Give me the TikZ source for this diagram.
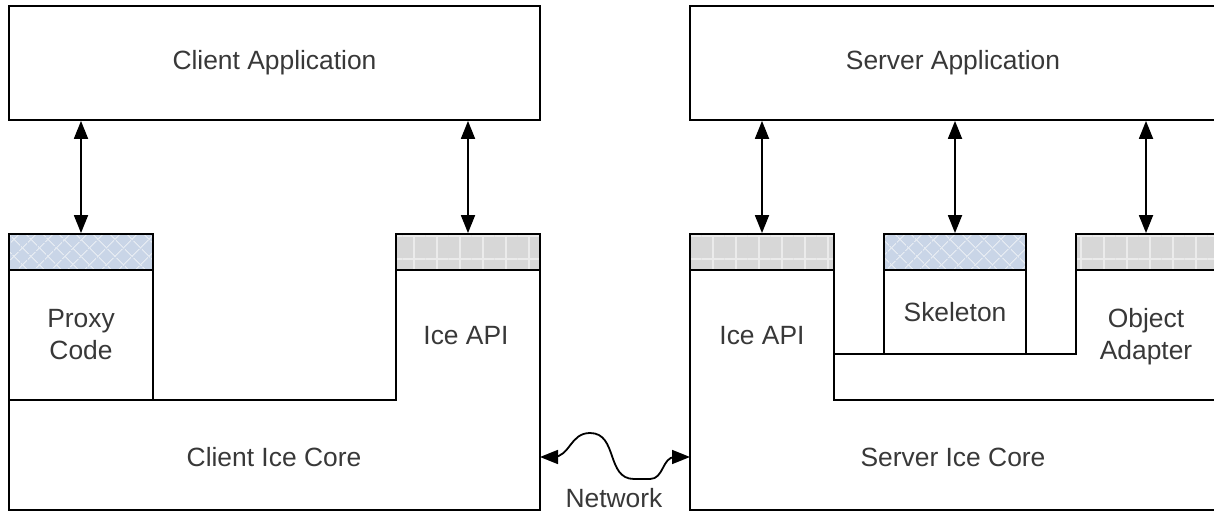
\documentclass[tikz,border=0pt]{standalone}
\usepackage{fontspec}
\setmainfont{Liberation Sans}
\usetikzlibrary{arrows.meta}
\usetikzlibrary{patterns.meta}
\definecolor{hatchblue}{HTML}{C9D5E7}
\definecolor{hatchline}{HTML}{E6EBF2}
\definecolor{gridgrey}{HTML}{D7D7D7}
\definecolor{gridline}{HTML}{EBEBEB}
\definecolor{labelgrey}{HTML}{383838}
\begin{document}
\begin{tikzpicture}[x=0.5pt,y=-0.5pt,
  line width=0.9pt,
  every node/.style={font=\fontsize{13.2}{16}\selectfont},
  box/.style={draw,inner sep=0pt,text=labelgrey,align=center},
  lbl/.style={text=labelgrey,align=center},
  xhatch/.style={box,fill=hatchblue,
    postaction={pattern={Lines[angle=45,distance=6.4pt,line width=0.6pt]},pattern color=hatchline},
    postaction={pattern={Lines[angle=-45,distance=6.4pt,line width=0.6pt]},pattern color=hatchline},
    postaction={draw}},
  apihead/.style={box,fill=gridgrey,
    postaction={pattern={Lines[angle=0,distance=11.5pt,line width=0.8pt]},pattern color=gridline},
    postaction={pattern={Lines[angle=90,distance=11.5pt,line width=0.8pt]},pattern color=gridline},
    postaction={draw}},
  biarrow/.style={>={Triangle[length=9pt,width=7pt]},<->}]
\clip (0,0) rectangle (1214,512);
% applications
\node (clientapp) [box,minimum width=265.5pt,minimum height=57pt] at (274.5,63) {Client Application};
\node (serverapp) [box,minimum width=263pt,minimum height=57pt] at (953,63) {Server Application};
% client side
\draw (9,400) -- (396,400) -- (396,270) -- (540,270) -- (540,510) -- (9,510) -- cycle;
\node (proxy) [box,minimum width=72pt,minimum height=65pt] at (81,335) {Proxy\\Code};
\node (proxyhead) [xhatch,minimum width=72pt,minimum height=18pt] at (81,252) {};
\node (capihead) [apihead,minimum width=72pt,minimum height=18pt] at (468,252) {};
\node (capi) [lbl] at (466,336) {Ice API};
\node (ccore) [lbl] at (274,457) {Client Ice Core};
% server side
\draw (690,270) -- (834,270) -- (834,400) -- (1216,400) -- (1216,510) -- (690,510) -- cycle;
\draw (834,354) -- (1076,354) -- (1076,270) -- (1216,270) -- (1216,400) -- (834,400) -- cycle;
\node (skel) [box,minimum width=71pt,minimum height=42pt] at (955,312) {Skeleton};
\node (sapihead) [apihead,minimum width=72pt,minimum height=18pt] at (762,252) {};
\node (skelhead) [xhatch,minimum width=71pt,minimum height=18pt] at (955,252) {};
\node (oahead) [apihead,minimum width=70pt,minimum height=18pt] at (1146,252) {};
\node (sapi) [lbl] at (762,336) {Ice API};
\node (oa) [lbl] at (1146,337) {Object\\Adapter};
\node (score) [lbl] at (953,457) {Server Ice Core};
% calls
\draw[biarrow] (clientapp.south -| proxyhead.north) -- (proxyhead.north);
\draw[biarrow] (clientapp.south -| capihead.north) -- (capihead.north);
\draw[biarrow] (serverapp.south -| sapihead.north) -- (sapihead.north);
\draw[biarrow] (serverapp.south -| skelhead.north) -- (skelhead.north);
\draw[biarrow] (serverapp.south -| oahead.north) -- (oahead.north);
% network
\coordinate (netl) at (540,457);
\coordinate (netr) at (690,457);
\draw[biarrow] (netl) -- (553,457) .. controls (570,457) and (570,433) .. (590,433)
  .. controls (618,433) and (606,479) .. (634,479) -- (650,479)
  .. controls (664,479) and (662,457) .. (675,457) -- (netr);
\node (net) [lbl,anchor=base,inner sep=0pt] at (614,508) {Network};
\end{tikzpicture}
\end{document}
